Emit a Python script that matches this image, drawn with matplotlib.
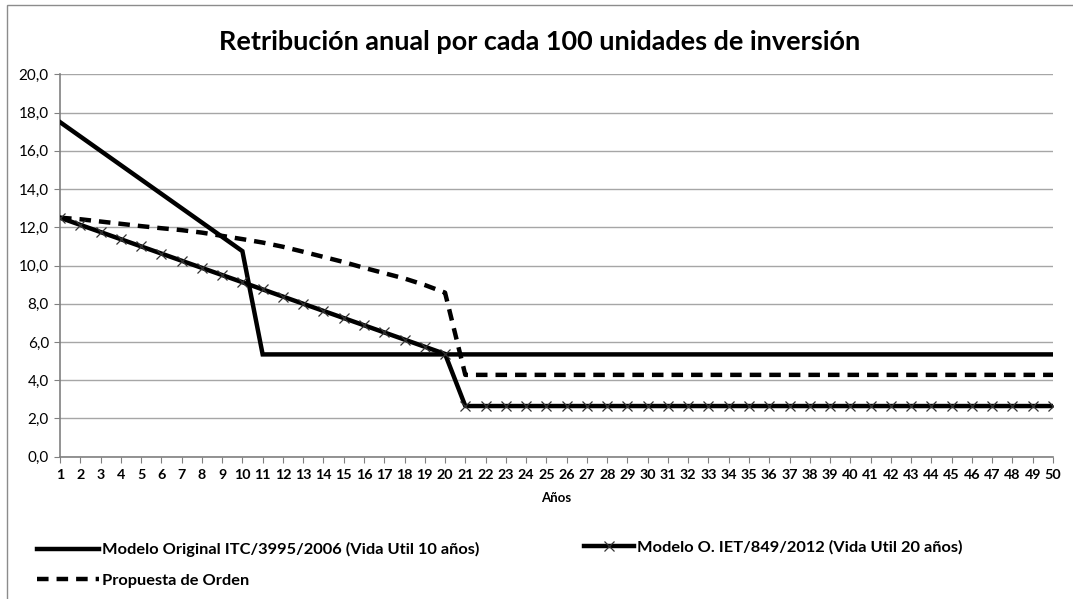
import matplotlib
matplotlib.use("Agg")
import matplotlib.pyplot as plt
from matplotlib.lines import Line2D
from matplotlib.patches import Rectangle

FONT = ['Lato', 'DejaVu Sans']
plt.rcParams['font.family'] = FONT

# ---- data ----
years = list(range(1, 51))
original = [17.5, 16.75, 16.0, 15.25, 14.5, 13.75, 13.0, 12.25, 11.5, 10.75] + [5.35] * 40
iet = [12.5, 12.125, 11.75, 11.375, 11.0, 10.625, 10.25, 9.875, 9.5, 9.125,
       8.75, 8.375, 8.0, 7.625, 7.25, 6.875, 6.5, 6.125, 5.75, 5.375] + [2.65] * 30
propuesta = [12.5, 12.42, 12.3, 12.18, 12.06, 11.95, 11.85, 11.72, 11.55, 11.38,
             11.2, 10.98, 10.72, 10.45, 10.18, 9.88, 9.6, 9.32, 8.98, 8.58] + [4.28] * 30
labels = ["Modelo Original ITC/3995/2006 (Vida Util 10 años)",
          "Modelo O. IET/849/2012 (Vida Util 20 años)",
          "Propuesta de Orden"]
title = "Retribución anual por cada 100 unidades de inversión"
xlabel = "Años"
yticks = [0, 2, 4, 6, 8, 10, 12, 14, 16, 18, 20]

W, H = 1073, 599
fig = plt.figure(figsize=(W / 100, H / 100), dpi=100)
fig.patch.set_facecolor('white')

# outer chart border
fig.add_artist(Rectangle((7 / W, -0.1), 1.2, 1 - 5 / H + 0.1, transform=fig.transFigure,
                         fill=False, edgecolor='#8c8c8c', linewidth=1.0))

L, R, T, B = 60, 1053, 74.3, 456.7
ax = fig.add_axes([L / W, 1 - B / H, (R - L) / W, (B - T) / H])

lw = 3.2
dash = (0, (2.6, 1.8))
ax.plot(years, original, color='black', lw=lw, solid_joinstyle='miter', zorder=3)
ax.plot(years, iet, color='black', lw=lw, marker='x', markersize=7,
        markeredgewidth=0.9, markeredgecolor='#333333', zorder=4)
ax.plot(years, propuesta, color='black', lw=lw, linestyle=dash, zorder=3)

ax.set_xlim(1, 50)
ax.set_ylim(0, 20)
ax.set_xticks(years)
ax.set_xticklabels([str(y) for y in years], fontsize=10.3, fontweight='bold')
ax.set_yticks(yticks)
ax.set_yticklabels([f"{v:.1f}".replace('.', ',') for v in yticks], fontsize=11)
ax.yaxis.grid(True, color='#a6a6a6', linewidth=1.0)
ax.set_axisbelow(True)
for s in ['top', 'right']:
    ax.spines[s].set_visible(False)
for s in ['left', 'bottom']:
    ax.spines[s].set_color('#808080')
    ax.spines[s].set_linewidth(1.2)
ax.tick_params(axis='x', direction='out', length=4, color='#808080', pad=5)
ax.tick_params(axis='y', direction='out', length=4, color='#808080', pad=4)

ax.set_xlabel(xlabel, fontsize=9.5, fontweight='bold', labelpad=8)

ttl = fig.text(540 / W, 1 - 42 / H, title, ha='center', va='center', fontsize=18,
               fontweight='bold')

leg_font = dict(size=11, weight='bold', family=FONT)
h1 = Line2D([], [], color='black', lw=lw)
h2 = Line2D([], [], color='black', lw=lw, marker='x', markersize=7, markeredgewidth=0.9,
            markeredgecolor='#333333')
h3 = Line2D([], [], color='black', lw=lw, linestyle=dash)


def make_legends(fs):
    prop = dict(leg_font, size=fs)
    a = fig.legend([h1, h3], [labels[0], labels[2]], loc='center left',
                   bbox_to_anchor=(29 / W, 1 - 565 / H), frameon=False, prop=prop,
                   handlelength=62 / (fs * 100 / 72), handletextpad=0.15,
                   labelspacing=1.3 * 11 / fs * 0.8, borderpad=0)
    b = fig.legend([h2], [labels[1]], loc='center left',
                   bbox_to_anchor=(576 / W, 1 - 547 / H), frameon=False, prop=prop,
                   handlelength=50 / (fs * 100 / 72), handletextpad=0.15, borderpad=0)
    return a, b


# fit text widths to the reference
fig.canvas.draw()
r = fig.canvas.get_renderer()
w = ttl.get_window_extent(r).width
ttl.set_fontsize(18 * 645 / w)

legA, legB = make_legends(11)
fig.canvas.draw()
w1 = legA.get_texts()[0].get_window_extent(r).width
fs = 11 * 378 / w1
legA.remove()
legB.remove()
legA, legB = make_legends(fs)

fig.savefig("out.png", dpi=100, facecolor='white')
